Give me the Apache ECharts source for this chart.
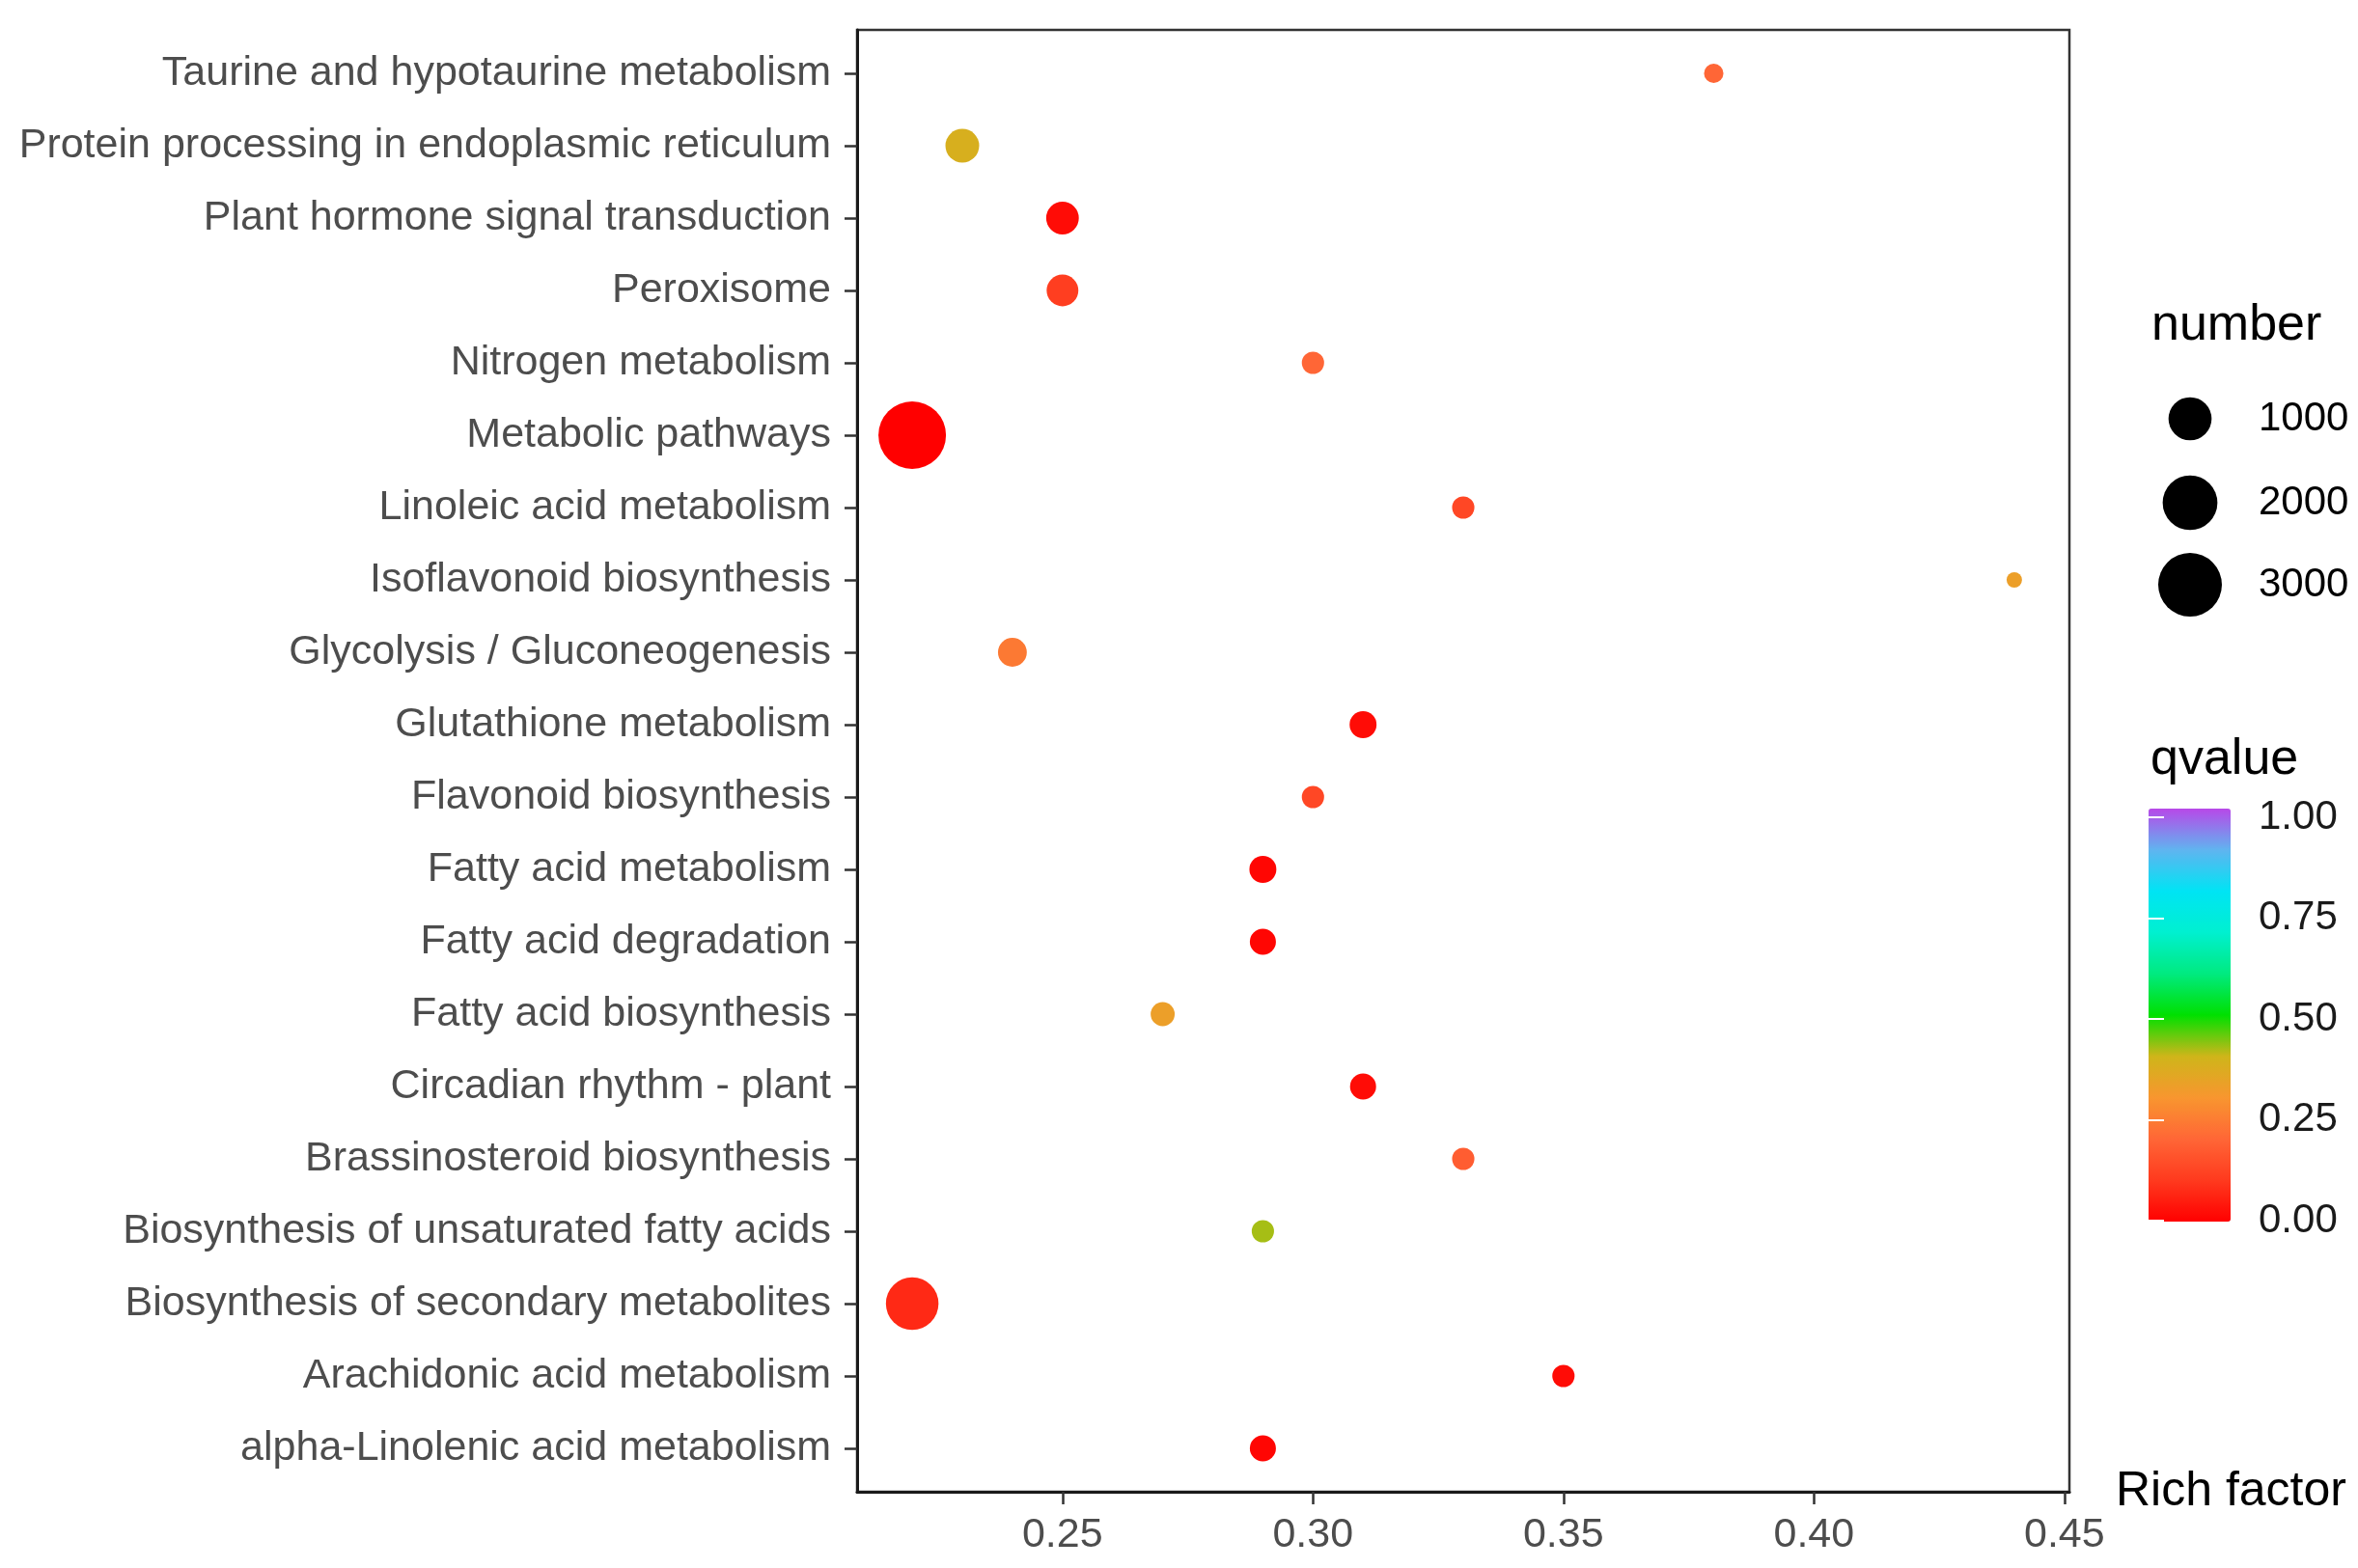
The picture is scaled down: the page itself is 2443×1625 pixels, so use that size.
<!DOCTYPE html>
<html>
<head>
<meta charset="utf-8">
<script src="https://cdn.jsdelivr.net/npm/echarts@6/dist/echarts.min.js"></script>
<style>
  html, body { margin: 0; padding: 0; background: #fff; }
  #chart { width: 2443px; height: 1625px; }
</style>
</head>
<body>
<div id="chart"></div>
<script>
// pathways, top to bottom as in the figure
var categories = [
  'Taurine and hypotaurine metabolism',
  'Protein processing in endoplasmic reticulum',
  'Plant hormone signal transduction',
  'Peroxisome',
  'Nitrogen metabolism',
  'Metabolic pathways',
  'Linoleic acid metabolism',
  'Isoflavonoid biosynthesis',
  'Glycolysis / Gluconeogenesis',
  'Glutathione metabolism',
  'Flavonoid biosynthesis',
  'Fatty acid metabolism',
  'Fatty acid degradation',
  'Fatty acid biosynthesis',
  'Circadian rhythm - plant',
  'Brassinosteroid biosynthesis',
  'Biosynthesis of unsaturated fatty acids',
  'Biosynthesis of secondary metabolites',
  'Arachidonic acid metabolism',
  'alpha-Linolenic acid metabolism'
];
var richFactor = [0.38, 0.23, 0.25, 0.25, 0.30, 0.22, 0.33, 0.44, 0.24, 0.31,
                  0.30, 0.29, 0.29, 0.27, 0.31, 0.33, 0.29, 0.22, 0.35, 0.29];
var geneNumber = [40, 450, 400, 360, 80, 3500, 80, 20, 250, 190,
                  80, 190, 165, 115, 165, 80, 80, 1790, 80, 165];
var qvalue = [0.20, 0.38, 0.02, 0.11, 0.20, 0.00, 0.13, 0.33, 0.24, 0.02,
              0.13, 0.01, 0.01, 0.33, 0.02, 0.18, 0.42, 0.07, 0.02, 0.01];
var xTicks = [0.25, 0.30, 0.35, 0.40, 0.45];
var sizeBreaks = [1000, 2000, 3000];
var qTicks = [0, 0.25, 0.5, 0.75, 1];

var FONT = '"Liberation Sans", Arial, Helvetica, sans-serif';
var qColors = ['#ff0000', '#ff3a1e', '#ff6636', '#f8962f', '#cfb51a', '#00e000',
               '#00ea80', '#00f0d0', '#00e4f4', '#60b4f0', '#b848e8'];

// ggplot-like area scale for point size
var nMin = Math.min.apply(null, geneNumber);
var nMax = Math.max.apply(null, geneNumber);
function sizeOf(v) {
  return 16 + 54 * Math.sqrt(Math.max(0, v - nMin) / (nMax - nMin));
}

// 5% expansion on x like ggplot
var xLo = Math.min.apply(null, richFactor), xHi = Math.max.apply(null, richFactor);
var xPad = (xHi - xLo) * 0.05;

var yTicks = categories.map(function (c, i) { return i + 1; });
var points = categories.map(function (c, i) {
  return [richFactor[i], i + 1, qvalue[i], geneNumber[i], c];
});

var myChart = echarts.init(document.getElementById('chart'));

var legendGraphics = [
  { type: 'text', left: 2229, top: 312, style: { text: 'number', font: '52px ' + FONT, fill: '#000' } },
  { type: 'text', left: 2228, top: 762, style: { text: 'qvalue', font: '52px ' + FONT, fill: '#000' } }
];
var legendY = [434, 521, 606];
sizeBreaks.forEach(function (b, i) {
  legendGraphics.push({
    type: 'circle',
    shape: { cx: 2269, cy: legendY[i], r: sizeOf(b) / 2 },
    style: { fill: '#000' }
  });
  legendGraphics.push({
    type: 'text', x: 2340, y: legendY[i],
    style: { text: String(b), font: '42px ' + FONT, fill: '#000', verticalAlign: 'middle' }
  });
});

var option = {
  backgroundColor: '#fff',
  animation: false,
  textStyle: { fontFamily: FONT },
  grid: [
    { left: 888, top: 31, width: 1256, height: 1515, show: true,
      borderColor: '#333', borderWidth: 2.5, backgroundColor: 'transparent' },
    { left: 2226, top: 847, width: 85, height: 418 }
  ],
  xAxis: [
    {
      type: 'value', gridIndex: 0,
      min: xLo - xPad, max: xHi + xPad,
      axisLine: { show: true, lineStyle: { color: '#1a1a1a', width: 3 } },
      axisTick: { show: true, customValues: xTicks, length: 13, lineStyle: { color: '#333', width: 2.5 } },
      axisLabel: {
        customValues: xTicks, fontSize: 43, color: '#4d4d4d', margin: 24,
        formatter: function (v) { return v.toFixed(2); }
      },
      splitLine: { show: false },
      name: 'Rich factor', nameLocation: 'end', nameGap: 48,
      nameTextStyle: { fontSize: 50, color: '#000', padding: [0, 0, 12, 0] }
    },
    { type: 'value', gridIndex: 1, min: 0, max: 1, show: false }
  ],
  yAxis: [
    {
      type: 'value', gridIndex: 0, inverse: true,
      min: 0.4, max: categories.length + 0.6,
      axisLine: { show: true, lineStyle: { color: '#1a1a1a', width: 3 } },
      axisTick: { show: true, customValues: yTicks, length: 13, lineStyle: { color: '#333', width: 2.5 } },
      axisLabel: {
        customValues: yTicks, fontSize: 43, color: '#4d4d4d', margin: 27,
        formatter: function (v) { return categories[Math.round(v) - 1]; }
      },
      splitLine: { show: false }
    },
    {
      type: 'value', gridIndex: 1, position: 'right', min: 0, max: 1, z: 10,
      axisLine: { show: false },
      axisTick: { show: true, inside: true, customValues: qTicks, length: 16, lineStyle: { color: '#fff', width: 2 } },
      axisLabel: {
        customValues: qTicks, fontSize: 42, color: '#1a1a1a', margin: 29,
        formatter: function (v) { return v.toFixed(2); }
      },
      splitLine: { show: false }
    },
    {
      type: 'value', gridIndex: 1, position: 'left', min: 0, max: 1, z: 10,
      axisLine: { show: false },
      axisTick: { show: true, inside: true, customValues: qTicks, length: 16, lineStyle: { color: '#fff', width: 2 } },
      axisLabel: { show: false },
      splitLine: { show: false }
    }
  ],
  visualMap: {
    type: 'continuous',
    seriesIndex: 0,
    dimension: 2,
    min: 0, max: 1,
    left: 2226, top: 838,
    padding: 0,
    itemWidth: 85, itemHeight: 428,
    calculable: false,
    hoverLink: false,
    inRange: { color: qColors }
  },
  graphic: legendGraphics,
  series: [
    {
      type: 'scatter',
      xAxisIndex: 0, yAxisIndex: 0,
      data: points,
      symbolSize: function (d) { return sizeOf(d[3]); },
      itemStyle: { opacity: 1 }
    }
  ]
};

myChart.setOption(option);
</script>
</body>
</html>
